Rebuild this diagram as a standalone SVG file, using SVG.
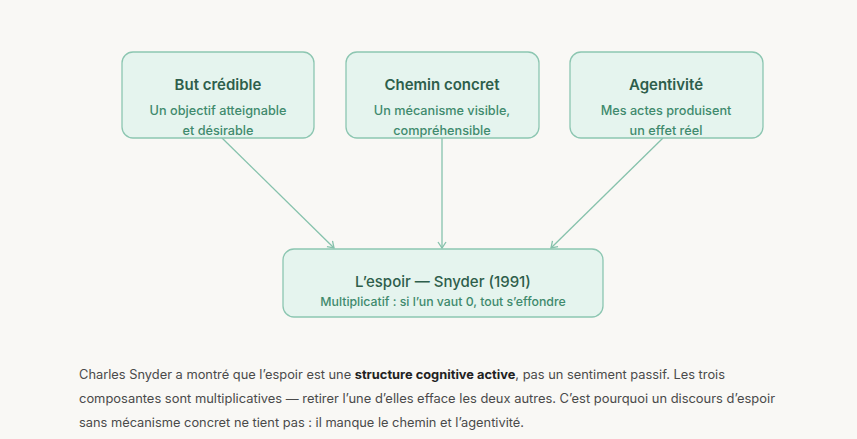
<svg xmlns="http://www.w3.org/2000/svg" width="857" height="439" viewBox="0 0 857 439">
<style>
.box{fill:#e5f4ee;stroke:#8cc6b1;stroke-width:1.3}
.t{font-family:Inter,"Open Sans",sans-serif;font-size:15px;font-weight:600;fill:#2e5e4b;text-anchor:middle}
.s{font-family:Inter,"Open Sans",sans-serif;font-size:12.7px;font-weight:500;fill:#3f8a6d;text-anchor:middle}
.c{stroke:#86c2ac;stroke-width:1.3;fill:none}
.p{font-family:Inter,"Open Sans",sans-serif;font-size:12.5px;fill:#4a4a4a}
.b{font-weight:700;fill:#222}
</style>
<defs>
<marker id="ah" markerWidth="10" markerHeight="10" refX="8" refY="5" orient="auto" markerUnits="userSpaceOnUse">
<path d="M2,1 L8,5 L2,9" fill="none" stroke="#86c2ac" stroke-width="1.3"/>
</marker>
</defs>
<rect width="857" height="439" fill="#f9f8f5"/>
<g id="connectors">
<path class="c" d="M222,138 L334,248" marker-end="url(#ah)"/>
<path class="c" d="M442,138 L442,248" marker-end="url(#ah)"/>
<path class="c" d="M663,138 L551,248" marker-end="url(#ah)"/>
</g>
<g id="n1">
<rect class="box" x="122" y="52" width="192" height="86" rx="11"/>
<text class="t" x="218" y="90">But crédible</text>
<text class="s" x="218" y="115">Un objectif atteignable</text>
<text class="s" x="218" y="135">et désirable</text>
</g>
<g id="n2">
<rect class="box" x="346" y="52" width="193" height="86" rx="11"/>
<text class="t" x="442" y="90">Chemin concret</text>
<text class="s" x="442" y="115">Un mécanisme visible,</text>
<text class="s" x="442" y="135">compréhensible</text>
</g>
<g id="n4">
<rect class="box" x="283" y="249" width="320" height="68" rx="11"/>
<text class="t" x="443" y="287" style="font-weight:500">L’espoir — Snyder (1991)</text>
<text class="s" x="443" y="306" style="font-size:12.3px">Multiplicatif : si l’un vaut 0, tout s’effondre</text>
</g>
<g id="n3">
<rect class="box" x="570" y="52" width="193" height="86" rx="11"/>
<text class="t" x="666" y="90">Agentivité</text>
<text class="s" x="666" y="115">Mes actes produisent</text>
<text class="s" x="666" y="135">un effet réel</text>
</g>
<g id="para">
<text class="p" x="79" y="379" textLength="646" lengthAdjust="spacingAndGlyphs">Charles Snyder a montré que l’espoir est une <tspan class="b">structure cognitive active</tspan>, pas un sentiment passif. Les trois</text>
<text class="p" x="79" y="403" textLength="696" lengthAdjust="spacingAndGlyphs">composantes sont multiplicatives — retirer l’une d’elles efface les deux autres. C’est pourquoi un discours d’espoir</text>
<text class="p" x="79" y="427" textLength="445" lengthAdjust="spacingAndGlyphs">sans mécanisme concret ne tient pas : il manque le chemin et l’agentivité.</text>
</g>
</svg>
